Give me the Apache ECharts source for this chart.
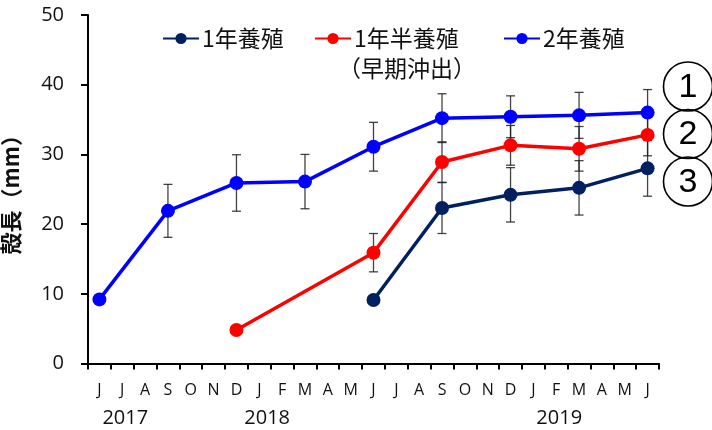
<!DOCTYPE html>
<html>
<head>
<meta charset="utf-8">
<script src="https://cdn.jsdelivr.net/npm/echarts@6/dist/echarts.min.js"></script>
<style>
  html, body { margin: 0; padding: 0; background: #fff; }
  #chart { width: 712px; height: 430px; }
</style>
</head>
<body>
<div id="chart"></div>
<script>
// Monthly sampling axis: June 2017 .. June 2019
const categories = ['2017-06','2017-07','2017-08','2017-09','2017-10','2017-11','2017-12',
  '2018-01','2018-02','2018-03','2018-04','2018-05','2018-06','2018-07','2018-08','2018-09',
  '2018-10','2018-11','2018-12','2019-01','2019-02','2019-03','2019-04','2019-05','2019-06'];
const monthLabels = ['J','J','A','S','O','N','D','J','F','M','A','M','J','J','A','S','O','N','D','J','F','M','A','M','J'];
const yearLabels = { 1: '2017', 8: '2018', 20: '2019' };

// 1年養殖
const oneYearMonths = [12, 15, 18, 21, 24];
const oneYearMean   = [9.1, 22.3, 24.2, 25.2, 28.0];
const oneYearSD     = [null, 3.65, 3.9, 3.9, 4.0];

// 1年半養殖（早期沖出）
const oneHalfMonths = [6, 12, 15, 18, 21, 24];
const oneHalfMean   = [4.8, 15.9, 28.9, 31.3, 30.8, 32.8];
const oneHalfSD     = [null, 2.75, 2.9, 2.85, 3.2, 3.0];

// 2年養殖
const twoYearMonths = [0, 3, 6, 9, 12, 15, 18, 21, 24];
const twoYearMean   = [9.2, 21.9, 25.9, 26.1, 31.1, 35.2, 35.4, 35.6, 36.0];
const twoYearSD     = [null, 3.8, 4.05, 3.9, 3.5, 3.5, 3.0, 3.3, 3.3];

const yTicks = { min: 0, max: 50, interval: 10 };

const NAVY = '#002060', RED = '#FF0000', BLUE = '#0000FF';
const FONT = "'Open Sans', 'Noto Sans CJK JP', sans-serif";
const JFONT = "'Noto Sans CJK JP', sans-serif";

function points(months, mean) {
  return months.map((m, i) => [m, mean[i]]);
}
function errorRanges(months, mean, sd) {
  const out = [];
  months.forEach((m, i) => {
    if (sd[i] != null) out.push([m, mean[i] - sd[i], mean[i] + sd[i]]);
  });
  return out;
}

function errorBarSeries(data) {
  return {
    type: 'custom',
    data: data,
    z: 1,
    silent: true,
    encode: { x: 0, y: [1, 2] },
    renderItem: function (params, api) {
      const x = api.value(0);
      const lo = api.coord([x, api.value(1)]);
      const hi = api.coord([x, api.value(2)]);
      const hw = 4.5;
      const style = { stroke: '#222', lineWidth: 1.3, opacity: 0.85 };
      return {
        type: 'group',
        children: [
          { type: 'line', shape: { x1: lo[0], y1: lo[1], x2: hi[0], y2: hi[1] }, style },
          { type: 'line', shape: { x1: lo[0] - hw, y1: lo[1], x2: lo[0] + hw, y2: lo[1] }, style },
          { type: 'line', shape: { x1: hi[0] - hw, y1: hi[1], x2: hi[0] + hw, y2: hi[1] }, style }
        ]
      };
    }
  };
}

function lineSeries(name, color, data) {
  return {
    name: name,
    type: 'line',
    data: data,
    z: 3,
    symbol: 'circle',
    symbolSize: 14,
    itemStyle: { color: color },
    lineStyle: { color: color, width: 3.5 },
    emphasis: { disabled: true }
  };
}

function legendFor(name, left) {
  return {
    data: [name],
    left: left,
    top: 22,
    itemWidth: 36,
    itemHeight: 14,
    itemGap: 0,
    selectedMode: false,
    textStyle: { fontFamily: JFONT, fontSize: 23, color: '#111', padding: [0, 0, 0, -2] }
  };
}

function circledNumber(n, cy) {
  return [
    { type: 'circle', shape: { cx: 688, cy: cy, r: 24.5 },
      style: { fill: 'none', stroke: '#000', lineWidth: 1.6 }, z: 10 },
    { type: 'text', x: 688, y: cy + 1,
      style: { text: String(n), fontFamily: "'Liberation Sans', sans-serif", fontSize: 34,
               fill: '#000', align: 'center', verticalAlign: 'middle' }, z: 10 }
  ];
}

const chart = echarts.init(document.getElementById('chart'), null, { renderer: 'canvas' });

chart.setOption({
  animation: false,
  backgroundColor: '#fff',
  grid: { left: 88, right: 53, top: 15, bottom: 66.5, containLabel: false, outerBoundsMode: 'none' },
  legend: [
    legendFor('1年養殖', 157),
    legendFor('1年半養殖', 309),
    legendFor('2年養殖', 498)
  ],
  graphic: [
    { type: 'text', left: 338, top: 57,
      style: { text: '（早期沖出）', fontFamily: JFONT, fontSize: 23, fill: '#111' } }
  ].concat(circledNumber(1, 86.5), circledNumber(2, 134), circledNumber(3, 181.5)),
  xAxis: {
    type: 'category',
    data: categories,
    boundaryGap: true,
    axisLine: { lineStyle: { color: '#000', width: 2 } },
    axisTick: { show: true, interval: 0, length: 6, lineStyle: { color: '#000', width: 2 } },
    axisLabel: {
      interval: 0,
      margin: 15,
      formatter: function (value, idx) {
        const m = '{m|' + monthLabels[idx] + '}';
        const y = yearLabels[idx];
        if (!y) return m;
        return m + '\n{' + (idx === 8 ? 'ys' : 'y') + '|' + y + '}';
      },
      rich: {
        m: { fontFamily: FONT, fontSize: 16, color: '#111', lineHeight: 24 },
        y: { fontFamily: FONT, fontSize: 20, color: '#111', lineHeight: 32, padding: [0, 0, 0, 6] },
        ys: { fontFamily: FONT, fontSize: 20, color: '#111', lineHeight: 32, padding: [0, 30, 0, 0] }
      }
    },
    splitLine: { show: false }
  },
  yAxis: {
    type: 'value',
    min: yTicks.min,
    max: yTicks.max,
    interval: yTicks.interval,
    name: '殻長（mm）',
    nameLocation: 'middle',
    nameRotate: 90,
    nameGap: 66,
    nameTextStyle: { fontFamily: JFONT, fontSize: 22, fontWeight: 'bold', color: '#111' },
    axisLine: { show: true, lineStyle: { color: '#000', width: 2 } },
    axisTick: { show: true, length: 7, lineStyle: { color: '#000', width: 2 } },
    axisLabel: { margin: 24, fontFamily: FONT, fontSize: 20, color: '#111' },
    splitLine: { show: false }
  },
  series: [
    errorBarSeries(errorRanges(twoYearMonths, twoYearMean, twoYearSD)),
    errorBarSeries(errorRanges(oneHalfMonths, oneHalfMean, oneHalfSD)),
    errorBarSeries(errorRanges(oneYearMonths, oneYearMean, oneYearSD)),
    lineSeries('1年養殖', NAVY, points(oneYearMonths, oneYearMean)),
    lineSeries('1年半養殖', RED, points(oneHalfMonths, oneHalfMean)),
    lineSeries('2年養殖', BLUE, points(twoYearMonths, twoYearMean))
  ]
});
</script>
</body>
</html>
